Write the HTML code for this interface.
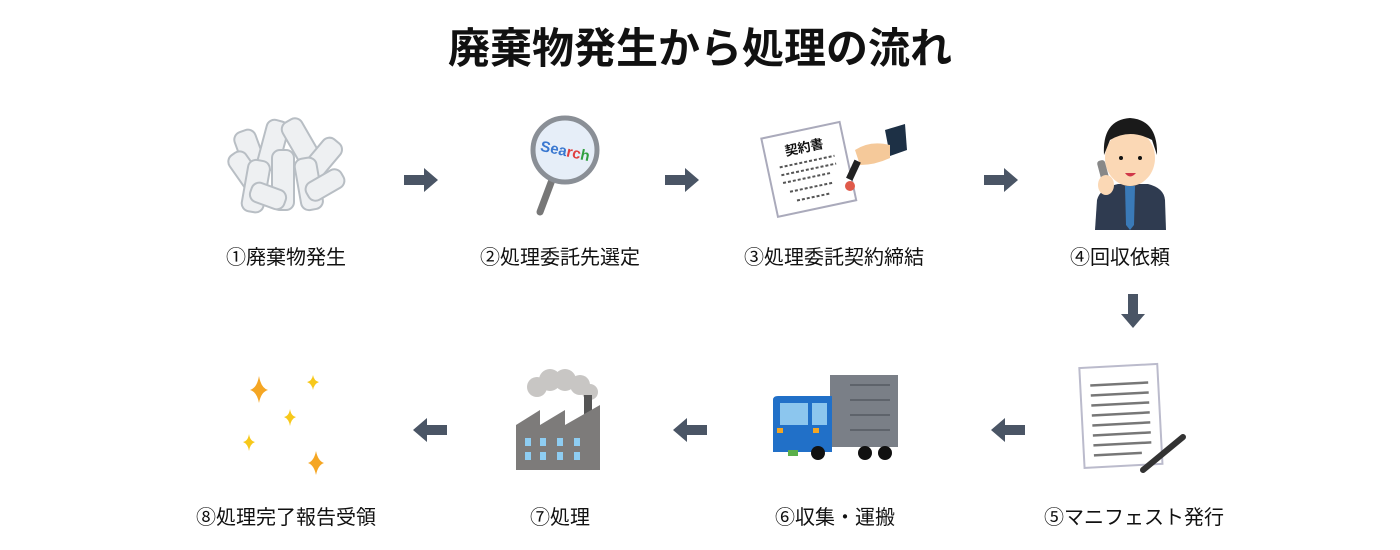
<!DOCTYPE html>
<html><head><meta charset="utf-8"><style>
html,body{margin:0;padding:0;background:#fff;width:1400px;height:550px;overflow:hidden}
svg text{font-family:"Liberation Sans","Noto Sans CJK JP",sans-serif}
</style></head><body>
<svg width="1400" height="550" viewBox="0 0 1400 550" xmlns="http://www.w3.org/2000/svg">
<defs>
<g id="arr"><path d="M-18,-5 H2 V-12 L16,0 L2,12 V5 H-18 Z" fill="#4a5565"/></g>
</defs>
<text x="700" y="63" text-anchor="middle" font-size="42" font-weight="bold" fill="#111">廃棄物発生から処理の流れ</text>

<g font-size="20" fill="#111" text-anchor="middle">
<text x="286" y="264">①廃棄物発生</text>
<text x="560" y="264">②処理委託先選定</text>
<text x="834" y="264">③処理委託契約締結</text>
<text x="1120" y="264">④回収依頼</text>
<text x="1134" y="524">⑤マニフェスト発行</text>
<text x="835" y="524">⑥収集・運搬</text>
<text x="560" y="524">⑦処理</text>
<text x="286" y="524">⑧処理完了報告受領</text>
</g>

<use href="#arr" x="422" y="180"/>
<use href="#arr" x="683" y="180"/>
<use href="#arr" x="1002" y="180"/>
<use href="#arr" transform="translate(1133,312) rotate(90)"/>
<use href="#arr" transform="translate(1007,430) rotate(180)"/>
<use href="#arr" transform="translate(689,430) rotate(180)"/>
<use href="#arr" transform="translate(429,430) rotate(180)"/>

<g fill="#eef0f2" stroke="#b8bec4" stroke-width="2">
<rect x="240" y="130" width="22" height="50" rx="8" transform="rotate(-20 250 155)"/>
<rect x="262" y="120" width="22" height="50" rx="8" transform="rotate(15 273 145)"/>
<rect x="290" y="118" width="22" height="50" rx="8" transform="rotate(-30 300 143)"/>
<rect x="310" y="135" width="22" height="50" rx="8" transform="rotate(40 320 160)"/>
<rect x="236" y="150" width="20" height="45" rx="8" transform="rotate(-35 246 172)"/>
<rect x="245" y="160" width="22" height="52" rx="8" transform="rotate(10 255 185)"/>
<rect x="272" y="150" width="22" height="60" rx="8"/>
<rect x="298" y="158" width="22" height="52" rx="8" transform="rotate(-10 308 185)"/>
<rect x="315" y="165" width="20" height="40" rx="8" transform="rotate(60 325 185)"/>
<rect x="258" y="178" width="20" height="36" rx="8" transform="rotate(-70 268 196)"/>
</g>

<line x1="552" y1="180" x2="540" y2="212" stroke="#777" stroke-width="7" stroke-linecap="round"/>
<circle cx="565" cy="150" r="32" fill="#e6eef8" stroke="#8a8f96" stroke-width="5"/>
<text x="565" y="156" text-anchor="middle" font-size="15" font-weight="bold" fill="#3a78d0" transform="rotate(12 565 152)">Sea<tspan fill="#e04040">rc</tspan><tspan fill="#30a040">h</tspan></text>

<g transform="rotate(-12 815 165)">
<rect x="768" y="128" width="80" height="80" fill="#fff" stroke="#aab" stroke-width="2"/>
<text x="808" y="150" text-anchor="middle" font-size="13" font-weight="bold" fill="#111">契約書</text>
<g stroke="#555" stroke-width="2" stroke-dasharray="3 2"><line x1="780" y1="160" x2="836" y2="160"/><line x1="780" y1="168" x2="836" y2="168"/><line x1="780" y1="176" x2="830" y2="176"/><line x1="785" y1="186" x2="830" y2="186"/><line x1="790" y1="196" x2="825" y2="196"/></g>
</g>
<circle cx="850" cy="186" r="5" fill="#e05a4a"/>
<path d="M885,130 L905,124 L907,150 L890,156 Z" fill="#1d3045"/>
<path d="M855,150 Q870,140 890,145 L890,158 Q875,165 860,165 Z" fill="#f5c99a"/>
<rect x="850" y="160" width="7" height="20" fill="#222" transform="rotate(25 853 170)"/>

<path d="M1095,230 L1097,200 Q1100,188 1118,184 L1148,184 Q1164,188 1165,200 L1166,230 Z" fill="#2f3b50"/>
<path d="M1125,186 L1135,186 L1134,225 L1130,230 L1126,225 Z" fill="#3a7ab8"/>
<ellipse cx="1130" cy="158" rx="25" ry="28" fill="#fbd8b5"/>
<path d="M1104,155 Q1102,120 1130,118 Q1158,120 1157,155 L1152,140 Q1130,128 1110,140 Z" fill="#1a1a1a"/>
<circle cx="1121" cy="158" r="2" fill="#111"/><circle cx="1140" cy="158" r="2" fill="#111"/>
<path d="M1125,173 Q1130,180 1136,173 Z" fill="#d0384a"/>
<rect x="1100" y="160" width="8" height="28" rx="3" fill="#888" transform="rotate(-15 1104 174)"/>
<ellipse cx="1106" cy="185" rx="8" ry="10" fill="#fbd8b5"/>

<g transform="rotate(-3 1120 418)">
<rect x="1082" y="366" width="78" height="100" fill="#fff" stroke="#bbc" stroke-width="2"/>
<g stroke="#777" stroke-width="2.5"><line x1="1092" y1="384" x2="1150" y2="384"/><line x1="1092" y1="394" x2="1150" y2="394"/><line x1="1092" y1="404" x2="1150" y2="404"/><line x1="1092" y1="414" x2="1150" y2="414"/><line x1="1092" y1="424" x2="1150" y2="424"/><line x1="1092" y1="434" x2="1150" y2="434"/><line x1="1092" y1="444" x2="1150" y2="444"/><line x1="1092" y1="454" x2="1140" y2="454"/></g>
</g>
<line x1="1183" y1="437" x2="1143" y2="470" stroke="#333" stroke-width="6" stroke-linecap="round"/>

<rect x="830" y="375" width="68" height="72" fill="#7a7f87"/>
<g stroke="#5e636b" stroke-width="2"><line x1="850" y1="385" x2="890" y2="385"/><line x1="850" y1="400" x2="890" y2="400"/><line x1="850" y1="415" x2="890" y2="415"/><line x1="850" y1="430" x2="890" y2="430"/></g>
<path d="M773,400 Q773,396 778,396 L832,396 L832,452 L773,452 Z" fill="#2170c8"/>
<rect x="780" y="403" width="28" height="22" fill="#8cc6ee"/>
<rect x="812" y="403" width="15" height="22" fill="#8cc6ee"/>
<rect x="777" y="428" width="6" height="5" fill="#f5a623"/><rect x="813" y="428" width="6" height="5" fill="#f5a623"/>
<rect x="788" y="450" width="10" height="6" fill="#5bb04a"/>
<g fill="#111"><circle cx="818" cy="453" r="7"/><circle cx="865" cy="453" r="7"/><circle cx="885" cy="453" r="7"/></g>

<g fill="#c8c6c4"><circle cx="537" cy="387" r="10"/><circle cx="550" cy="380" r="11"/><circle cx="565" cy="380" r="11"/><circle cx="580" cy="385" r="10"/><circle cx="590" cy="392" r="8"/></g>
<rect x="584" y="395" width="8" height="20" fill="#555"/>
<path d="M516,470 L516,425 L540,410 L540,425 L565,410 L565,425 L600,405 L600,470 Z" fill="#7d7b7a"/>
<g fill="#8ecdf2"><rect x="525" y="438" width="6" height="8"/><rect x="540" y="438" width="6" height="8"/><rect x="557" y="438" width="6" height="8"/><rect x="574" y="438" width="6" height="8"/><rect x="525" y="452" width="6" height="8"/><rect x="540" y="452" width="6" height="8"/><rect x="557" y="452" width="6" height="8"/><rect x="574" y="452" width="6" height="8"/></g>

<g fill="#f5a623">
<path d="M259,376 Q261,388 268,390 Q261,392 259,403 Q257,392 250,390 Q257,388 259,376 Z"/>
<path d="M316,451 Q318,461 324,463 Q318,465 316,475 Q314,465 308,463 Q314,461 316,451 Z"/>
</g>
<g fill="#f7c81a">
<path d="M313,375 Q314,381 319,382 Q314,384 313,390 Q312,384 307,382 Q312,381 313,375 Z"/>
<path d="M290,409 Q291,416 296,417 Q291,419 290,426 Q289,419 284,417 Q289,416 290,409 Z"/>
<path d="M249,434 Q250,441 255,442 Q250,444 249,451 Q248,444 243,442 Q248,441 249,434 Z"/>
</g>
</svg>
</body></html>
